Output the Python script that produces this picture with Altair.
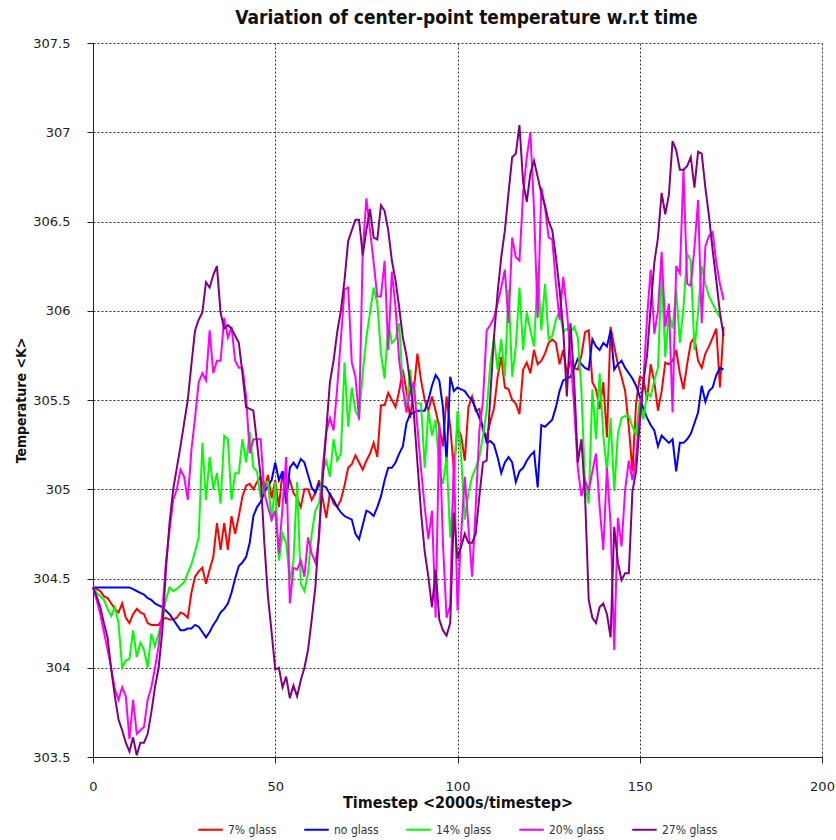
import altair as alt
import pandas as pd

# Center-point temperature (K) per timestep for each glass fraction
series_names = ["7% glass", "no glass", "14% glass", "20% glass", "27% glass"]
series_colors = ["#ff0000", "#0000ff", "#00ff00", "#ff00ff", "#800080"]

temp_7 = [
    304.45, 304.44, 304.43, 304.40, 304.39, 304.36, 304.33, 304.31, 304.36, 304.28,
    304.25, 304.30, 304.33, 304.31, 304.30, 304.25, 304.24, 304.24, 304.24, 304.27,
    304.28, 304.27, 304.27, 304.28, 304.31, 304.30, 304.28, 304.42, 304.51, 304.54,
    304.56, 304.47, 304.55, 304.62, 304.81, 304.66, 304.81, 304.66, 304.85, 304.75,
    304.85, 304.96, 305.02, 305.03, 305.00, 305.04, 305.07, 305.00, 305.08, 304.95,
    305.05, 304.90, 305.10, 305.00, 305.05, 304.98, 304.95, 304.90, 305.00, 305.00,
    304.94, 304.98, 305.05, 304.95, 304.84, 304.98, 304.92, 304.90, 304.94, 305.02,
    305.12, 305.14, 305.19, 305.15, 305.11, 305.16, 305.20, 305.26, 305.18, 305.47,
    305.47, 305.54, 305.50, 305.46, 305.55, 305.67, 305.55, 305.40, 305.55, 305.76,
    305.61, 305.50, 305.44, 305.52, 305.44, 305.35, 305.24, 305.52, 305.35, 305.11,
    305.35, 305.30, 305.16, 305.46, 305.52, 305.44, 305.45, 305.33, 305.29, 305.38,
    305.45, 305.63, 305.74, 305.57, 305.56, 305.50, 305.48, 305.42, 305.67, 305.71,
    305.65, 305.78, 305.70, 305.72, 305.76, 305.82, 305.84, 305.82, 305.70, 305.78,
    305.65, 305.72, 305.68, 305.67, 305.75, 305.88, 305.89, 305.60, 305.56, 305.45,
    305.60, 305.29, 305.91, 305.80, 305.70, 305.63, 305.55, 305.35, 305.10, 305.48,
    305.63, 305.62, 305.50, 305.70, 305.60, 305.44, 305.55, 305.71, 305.70, 305.72,
    305.78, 305.65, 305.56, 305.70, 305.82, 305.85, 305.72, 305.68, 305.76, 305.80,
    305.85, 305.90, 305.57, 305.91,
]

temp_none = [
    304.45, 304.45, 304.45, 304.45, 304.45, 304.45, 304.45, 304.45, 304.45, 304.45,
    304.45, 304.44, 304.43, 304.42, 304.41, 304.39, 304.38, 304.36, 304.35, 304.34,
    304.32, 304.30, 304.27, 304.24, 304.21, 304.21, 304.22, 304.22, 304.24, 304.23,
    304.20, 304.17, 304.20, 304.24, 304.27, 304.31, 304.33, 304.36, 304.42, 304.50,
    304.57, 304.59, 304.62, 304.70, 304.85, 304.90, 304.93, 304.98, 305.02, 305.05,
    305.15, 305.05, 305.10, 304.92, 305.12, 305.15, 305.12, 305.17, 305.15, 305.08,
    305.01, 304.98, 305.03, 305.02, 305.01, 304.97, 304.94, 304.90, 304.87, 304.85,
    304.84, 304.83, 304.75, 304.72, 304.80, 304.88, 304.87, 304.85, 304.90, 304.96,
    305.05, 305.12, 305.12, 305.15, 305.20, 305.24, 305.37, 305.42, 305.43, 305.44,
    305.44, 305.44, 305.50, 305.58, 305.64, 305.61, 305.46, 305.15, 305.63, 305.55,
    305.57, 305.56, 305.55, 305.52, 305.50, 305.45, 305.40, 305.35, 305.26, 305.27,
    305.25, 305.18, 305.09, 305.15, 305.18, 305.15, 305.04, 305.10, 305.12, 305.16,
    305.19, 305.21, 305.01, 305.36, 305.35, 305.37, 305.39, 305.46, 305.55, 305.61,
    305.62, 305.63, 305.68, 305.73, 305.70, 305.68, 305.67, 305.84, 305.80, 305.78,
    305.82, 305.80, 305.89, 305.67, 305.70, 305.72, 305.68, 305.65, 305.62, 305.58,
    305.52, 305.45, 305.40, 305.36, 305.33, 305.24, 305.30, 305.28, 305.26, 305.28,
    305.10, 305.26, 305.26, 305.28, 305.31, 305.37, 305.43, 305.58, 305.49, 305.55,
    305.57, 305.64, 305.68, 305.67,
]

temp_14 = [
    304.45, 304.42, 304.40, 304.38, 304.33, 304.29, 304.34, 304.25, 304.00, 304.04,
    304.05, 304.21, 304.06, 304.14, 304.10, 304.00, 304.19, 304.12, 304.19, 304.27,
    304.38, 304.45, 304.43, 304.44, 304.46, 304.48, 304.53, 304.58, 304.65, 304.73,
    305.26, 304.94, 305.18, 305.00, 305.09, 304.92, 305.30, 305.28, 304.94, 305.09,
    305.09, 305.28, 305.15, 305.32, 305.12, 305.10, 304.95, 305.04, 305.04, 304.82,
    305.04, 304.60, 304.75, 304.70, 304.49, 304.60, 305.04, 304.47, 304.43, 304.53,
    304.75, 304.88, 304.92, 305.10, 305.16, 305.07, 305.28, 305.16, 305.20, 305.71,
    305.35, 305.57, 305.44, 305.40, 305.65, 305.85, 305.99, 306.13, 306.04, 305.76,
    305.62, 305.93, 305.82, 305.84, 305.93, 305.57, 305.44, 305.67, 305.50, 305.48,
    305.48, 305.12, 305.44, 305.30, 305.39, 305.11, 305.03, 305.18, 304.73, 305.00,
    305.44, 305.18, 304.83, 304.98, 305.07, 305.12, 305.18, 305.30, 305.44, 305.70,
    305.85, 305.67, 305.84, 305.63, 306.12, 305.63, 305.80, 306.13, 305.78, 305.99,
    305.89, 305.80, 306.22, 305.89, 306.15, 305.84, 305.86, 305.95, 306.00, 305.88,
    305.90, 305.88, 305.91, 305.85, 305.55, 305.03, 304.92, 305.56, 305.28, 305.65,
    305.30, 305.10, 305.40, 304.99, 305.31, 305.40, 305.41, 305.41, 305.35, 305.31,
    305.50, 305.39, 305.54, 305.52, 305.61, 305.68, 306.23, 305.74, 305.99, 305.90,
    306.12, 305.82, 306.02, 306.32, 306.28, 305.78, 305.99, 306.25, 306.15, 306.08,
    306.04, 306.00, 305.96,
]

temp_20 = [
    304.45, 304.38, 304.30, 304.20, 304.10, 304.00, 303.88, 303.82, 303.89, 303.84,
    303.60, 303.82, 303.63, 303.65, 303.67, 303.82, 303.89, 304.00, 304.12, 304.31,
    304.59, 304.77, 304.94, 305.00, 305.11, 305.07, 304.94, 305.22, 305.40, 305.60,
    305.65, 305.61, 305.89, 305.65, 305.72, 305.72, 305.96, 305.85, 305.91, 305.72,
    305.68, 305.68, 305.52, 305.20, 305.28, 305.28, 305.28, 304.98, 304.90, 304.83,
    304.88, 304.64, 304.90, 305.18, 304.36, 304.56, 304.55, 304.60, 304.51, 304.73,
    304.64, 304.59, 304.72, 305.12, 305.32, 305.40, 305.33, 305.57, 305.84, 306.12,
    306.13, 305.71, 305.63, 305.39, 306.33, 306.63, 306.45, 306.27, 306.08, 306.08,
    306.28, 305.78, 306.22, 306.02, 305.72, 305.57, 305.43, 305.55, 305.60, 305.35,
    305.11, 304.90, 304.72, 304.88, 304.28, 305.37, 304.70, 304.28, 304.35, 305.20,
    304.32, 304.75, 305.07, 304.79, 304.51, 304.90, 305.33, 305.50, 305.89, 305.92,
    305.96, 306.04, 306.13, 306.23, 305.93, 306.41, 306.30, 306.28, 306.66, 306.86,
    307.00, 306.56, 305.96, 306.69, 306.58, 306.41, 306.40, 306.15, 305.95, 306.19,
    306.00, 305.75, 305.46, 305.12, 304.96, 305.05, 304.99, 305.10, 305.20, 304.90,
    304.66, 305.12, 304.80, 304.10, 304.84, 304.68, 305.00, 305.16, 305.05, 305.18,
    305.43, 305.61, 305.96, 306.23, 305.87, 306.00, 306.33, 305.91, 306.04, 305.43,
    306.25, 306.21, 306.79, 306.15, 306.14, 306.35, 306.62, 305.93, 306.36, 306.42,
    306.44, 306.27, 306.15, 306.06,
]

temp_27 = [
    304.45, 304.40, 304.34, 304.25, 304.17, 303.99, 303.84, 303.71, 303.65, 303.58,
    303.53, 303.61, 303.51, 303.58, 303.58, 303.63, 303.75, 303.89, 304.00, 304.20,
    304.55, 304.81, 305.00, 305.12, 305.24, 305.37, 305.50, 305.70, 305.89, 305.95,
    305.99, 306.16, 306.13, 306.20, 306.25, 305.99, 305.90, 305.92, 305.90, 305.86,
    305.82, 305.65, 305.46, 305.45, 305.44, 305.26, 305.07, 304.70, 304.40, 304.20,
    303.99, 304.00, 303.89, 303.95, 303.83, 303.90, 303.84, 303.93, 304.00, 304.10,
    304.27, 304.45, 304.75, 305.05, 305.33, 305.60, 305.72, 305.88, 306.00, 306.17,
    306.39, 306.45, 306.51, 306.51, 306.31, 306.45, 306.57, 306.41, 306.40, 306.59,
    306.56, 306.45, 306.28, 306.17, 306.02, 305.85, 305.75, 305.60, 305.43, 305.15,
    304.87, 304.65, 304.51, 304.34, 304.55, 304.27, 304.21, 304.18, 304.25, 304.87,
    304.61, 304.68, 304.75, 304.70, 304.70, 304.75, 304.96, 305.15, 305.16, 305.52,
    305.85, 306.10, 306.30, 306.45, 306.66, 306.86, 306.88, 307.04, 306.72, 306.61,
    306.77, 306.84, 306.75, 306.66, 306.59, 306.50, 306.45, 306.30, 306.12, 305.90,
    305.52, 305.93, 305.61, 305.15, 305.28, 304.96, 304.38, 304.28, 304.25, 304.34,
    304.36, 304.30, 304.17, 304.79, 304.59, 304.49, 304.53, 304.53, 304.99, 305.10,
    305.37, 305.60, 305.75, 306.02, 306.27, 306.41, 306.66, 306.54, 306.65, 306.95,
    306.90, 306.79, 306.79, 306.81, 306.86, 306.69, 306.89, 306.88, 306.69, 306.53,
    306.34, 306.17, 305.99, 305.86,
]

x_ticks = [0, 50, 100, 150, 200]
y_ticks = [303.5, 304.0, 304.5, 305.0, 305.5, 306.0, 306.5, 307.0, 307.5]

series_values = [temp_7, temp_none, temp_14, temp_20, temp_27]
rows = []
for name, values in zip(series_names, series_values):
    for step, temp in enumerate(values):
        rows.append({"timestep": step, "temperature": temp, "series": name})
df = pd.DataFrame(rows)

condensed = "DejaVu Sans Condensed, DejaVu Sans"
regular = "DejaVu Sans"

chart = (
    alt.Chart(df)
    .mark_line(strokeWidth=2)
    .encode(
        x=alt.X(
            "timestep:Q",
            scale=alt.Scale(domain=[0, 200], nice=False),
            axis=alt.Axis(
                values=x_ticks,
                title="Timestep <2000s/timestep>",
                titlePadding=1,
                titleFontSize=16,
                labelPadding=17,
                labelFlush=False,
                tickSize=6,
            ),
        ),
        y=alt.Y(
            "temperature:Q",
            scale=alt.Scale(domain=[303.5, 307.5], nice=False, zero=False),
            axis=alt.Axis(
                values=y_ticks,
                format="~g",
                title="Temperature <K>",
                titlePadding=4,
                titleFontSize=14,
                labelPadding=17,
                labelFlush=False,
                tickSize=6,
            ),
        ),
        color=alt.Color(
            "series:N",
            scale=alt.Scale(domain=series_names, range=series_colors),
            sort=series_names,
            legend=alt.Legend(
                title=None,
                orient="none",
                legendX=104,
                legendY=773,
                direction="horizontal",
                symbolType="stroke",
                symbolStrokeWidth=2,
                symbolSize=600,
                columnPadding=23,
                labelFontSize=12,
                labelFont=condensed,
                labelColor="#333333",
            ),
        ),
        detail="series:N",
    )
    .properties(
        width=729,
        height=714,
        autosize=alt.AutoSizeParams(type="none"),
        padding={"left": 93, "top": 43, "right": 14, "bottom": 83},
        title=alt.TitleParams(
            "Variation of center-point temperature w.r.t time",
            anchor="middle",
            dx=9,
            offset=9,
            fontSize=19,
            fontWeight="bold",
            font=condensed,
            color="#111111",
        ),
    )
    .configure_view(strokeWidth=0)
    .configure_axis(
        grid=True,
        gridColor="#333333",
        gridDash=[2, 2],
        gridOpacity=1,
        gridWidth=1,
        domainColor="#222222",
        tickColor="#222222",
        labelFont=regular,
        labelFontSize=13,
        labelColor="#222222",
        titleFont=condensed,
        titleFontWeight="bold",
        titleColor="#111111",
    )
)

chart.save("out.html", embed_options={"renderer": "svg", "actions": False})
